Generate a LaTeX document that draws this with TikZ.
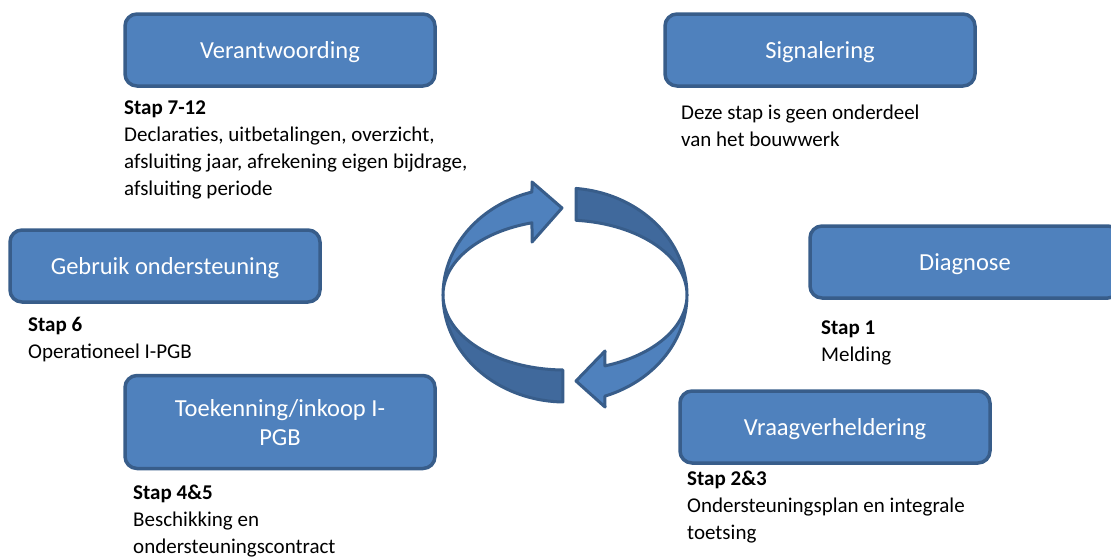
\documentclass[tikz,border=0pt]{standalone}
\usepackage{fontspec}
\setmainfont{Carlito}
\usetikzlibrary{positioning}
\definecolor{faseblauw}{HTML}{4F81BD}
\definecolor{randblauw}{HTML}{385D8A}
\definecolor{achterblauw}{HTML}{40699C}

\begin{document}
\begin{tikzpicture}[
    x=1pt, y=-1pt,
    fase/.style={rectangle, rounded corners=12pt, draw=randblauw, fill=faseblauw, line width=3.5pt, minimum width=310pt, minimum height=72pt, align=center, text=white, text depth=0pt, font=\fontsize{24.5}{29}\selectfont},
    uitleg/.style={anchor=base west, inner sep=0pt, align=left, font=\fontsize{21}{27}\selectfont},
    ring/.style={draw=randblauw, line width=3pt, line join=round, smooth, samples=40}
]
    \clip (0,0) rectangle (1111,558);

    % fases
    \node[fase] (verantwoording) at (280,50) {Verantwoording};
    \node[fase] (signalering) at (820,50) {Signalering};
    \node[fase] (gebruik) at (165,266) {Gebruik ondersteuning};
    \node[fase] (diagnose) at (965,262) {Diagnose};
    \node[fase, minimum height=93pt] (toekenning) at (280,422) {Toekenning/inkoop I-\\PGB};
    \node[fase] (vraag) at (835,427) {Vraagverheldering};

    % toelichting (ankerpunt = basislijn van de laatste regel)
    \node[uitleg] (stap712) at (124,195) {\textbf{Stap 7-12}\\Declaraties, uitbetalingen, overzicht,\\afsluiting jaar, afrekening eigen bijdrage,\\afsluiting periode};
    \node[uitleg] (signaaltekst) at (681,146) {Deze stap is geen onderdeel\\van het bouwwerk};
    \node[uitleg] (stap6) at (28,358) {\textbf{Stap 6}\\Operationeel I-PGB};
    \node[uitleg] (stap1) at (821,361) {\textbf{Stap 1}\\Melding};
    \node[uitleg] (stap45) at (133,553) {\textbf{Stap 4\&5}\\Beschikking en\\ondersteuningscontract};
    \node[uitleg] (stap23) at (687,539) {\textbf{Stap 2\&3}\\Ondersteuningsplan en integrale\\toetsing};

    % kringloop, achterkant
    \draw[ring, fill=achterblauw] plot[domain=84.8:0] ({565+122*cos(\x)},{295-107*sin(\x)})
        -- plot[domain=0:84.8] ({565+122*cos(\x)},{295-75*sin(\x)}) -- cycle;
    \draw[ring, fill=achterblauw] plot[domain=180:269] ({565+122*cos(\x)},{295-107*sin(\x)})
        -- plot[domain=269:180] ({565+122*cos(\x)},{295-75*sin(\x)}) -- cycle;
    % kringloop, voorkant met pijlpunten
    \draw[ring, fill=faseblauw] plot[domain=180:105.7] ({565+122*cos(\x)},{295-107*sin(\x)})
        -- (532,182) -- (562,208) -- (532,242)
        -- plot[domain=105.7:180] ({565+122*cos(\x)},{295-75*sin(\x)}) -- cycle;
    \draw[ring, fill=faseblauw] plot[domain=0:-70.9] ({565+122*cos(\x)},{295-107*sin(\x)})
        -- (605,407) -- (576,381) -- (605,351)
        -- plot[domain=-70.9:0] ({565+122*cos(\x)},{295-75*sin(\x)}) -- cycle;
\end{tikzpicture}
\end{document}
